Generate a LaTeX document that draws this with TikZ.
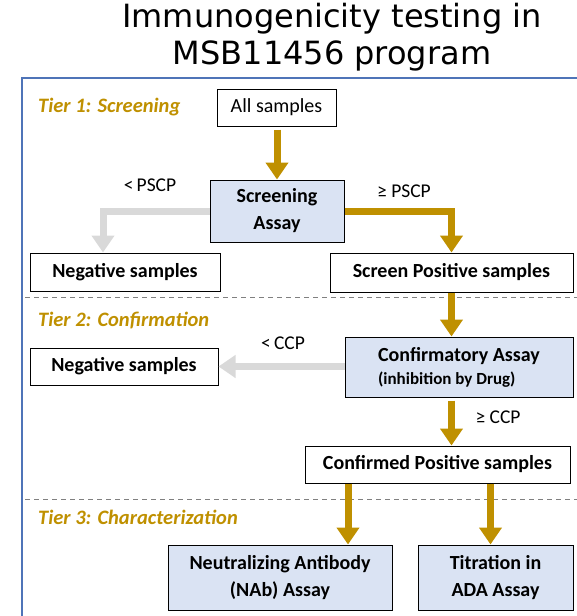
\documentclass[tikz,border=0pt]{standalone}
\usepackage{fontspec}
\setmainfont{Carlito}
\newfontfamily\titlefont{DejaVu Sans}
\usetikzlibrary{arrows.meta}
\definecolor{gold}{HTML}{BF9000}
\definecolor{lgray}{HTML}{D9D9D9}
\definecolor{boxblue}{HTML}{DAE3F3}
\definecolor{frameblue}{HTML}{4F74B8}
\definecolor{dashgray}{HTML}{808080}
\begin{document}
\begin{tikzpicture}[x=1pt,y=-1pt,
  box/.style={draw=black, line width=1pt, fill=white, inner sep=0pt, align=center,
              font=\fontsize{20}{27}\selectfont\bfseries},
  assay/.style={box, fill=boxblue},
  tier/.style={anchor=west, text=gold, inner sep=0pt, font=\fontsize{20.5}{24}\selectfont\bfseries\itshape},
  cond/.style={inner sep=0pt, font=\fontsize{19.5}{23}\selectfont},
  goldarrow/.style={draw=gold, line width=7pt, -{Triangle[width=22pt,length=17pt]}},
  grayarrow/.style={draw=lgray, line width=7pt, -{Triangle[width=22pt,length=17pt]}},
  sep/.style={draw=dashgray, line width=0.8pt, dash pattern=on 5pt off 4pt}]

\useasboundingbox (0,0) rectangle (577,616);

% title
\node[font=\titlefont\fontsize{32}{37}\selectfont, align=center, inner sep=0pt] (title) at (332,37)
  {Immunogenicity testing in\\MSB11456 program};

% frame
\coordinate (fa) at (22,616);
\coordinate (fb) at (22,78);
\coordinate (fc) at (577,78);
\draw[frameblue, line width=2pt] (fa) -- (fb) -- (fc);

% tier separators
\coordinate (s1a) at (25,297); \coordinate (s1b) at (577,297);
\coordinate (s2a) at (25,499); \coordinate (s2b) at (577,499);
\draw[sep] (s1a) -- (s1b);
\draw[sep] (s2a) -- (s2b);

% tier labels
\node[tier] (t1) at (38,107) {Tier 1: Screening};
\node[tier] (t2) at (38,320) {Tier 2: Confirmation};
\node[tier] (t3) at (38,517) {Tier 3: Characterization};

% boxes
\node[box, font=\fontsize{20}{27}\selectfont, minimum width=119pt, minimum height=37pt] (all) at (276.5,107.5) {All samples};
\node[assay, minimum width=134pt, minimum height=62pt] (scr) at (277,211) {Screening\\Assay};
\node[box, minimum width=190pt, minimum height=38pt] (neg1) at (125,272) {Negative samples};
\node[box, minimum width=243pt, minimum height=39pt] (pos1) at (451.5,272.5) {Screen Positive samples};
\node[assay, align=left, minimum width=228pt, minimum height=60pt] (conf) at (459,367)
  {Confirmatory Assay\\[-4pt]{\fontsize{17}{20}\selectfont (inhibition by Drug)}};
\node[box, minimum width=188pt, minimum height=37pt] (neg2) at (124,366.5) {Negative samples};
\node[box, minimum width=265pt, minimum height=37pt] (cpos) at (437.5,464.5) {Confirmed Positive samples};
\node[assay, minimum width=224pt, minimum height=65pt] (nab) at (280,577.5) {Neutralizing Antibody\\(NAb) Assay};
\node[assay, minimum width=155pt, minimum height=65pt] (tit) at (495.5,577.5) {Titration in\\ADA Assay};

% condition labels
\node[cond] (c1) at (150,185) {<\,PSCP};
\node[cond] (c2) at (404,191) {≥ PSCP};
\node[cond] (c3) at (283,343) {<\,CCP};
\node[cond] (c4) at (498,417) {≥ CCP};

% connectors
\draw[goldarrow] ([yshift=-3pt]all.south -| scr.north) -- (scr.north);
\draw[grayarrow] (scr.west) -| ([xshift=-22pt]neg1.north);
\draw[goldarrow] (scr.east) -| (pos1.north);
\draw[goldarrow] (pos1.south) -- (pos1.south |- conf.north);
\draw[grayarrow] (conf.west |- neg2.east) -- (neg2.east);
\draw[goldarrow] ([yshift=-3pt]pos1.south |- conf.south) -- (pos1.south |- cpos.north);
\draw[goldarrow] ([xshift=68pt]nab.north |- cpos.south) -- ([xshift=68pt]nab.north);
\draw[goldarrow] ([xshift=-5pt]tit.north |- cpos.south) -- ([xshift=-5pt]tit.north);
\end{tikzpicture}
\end{document}
